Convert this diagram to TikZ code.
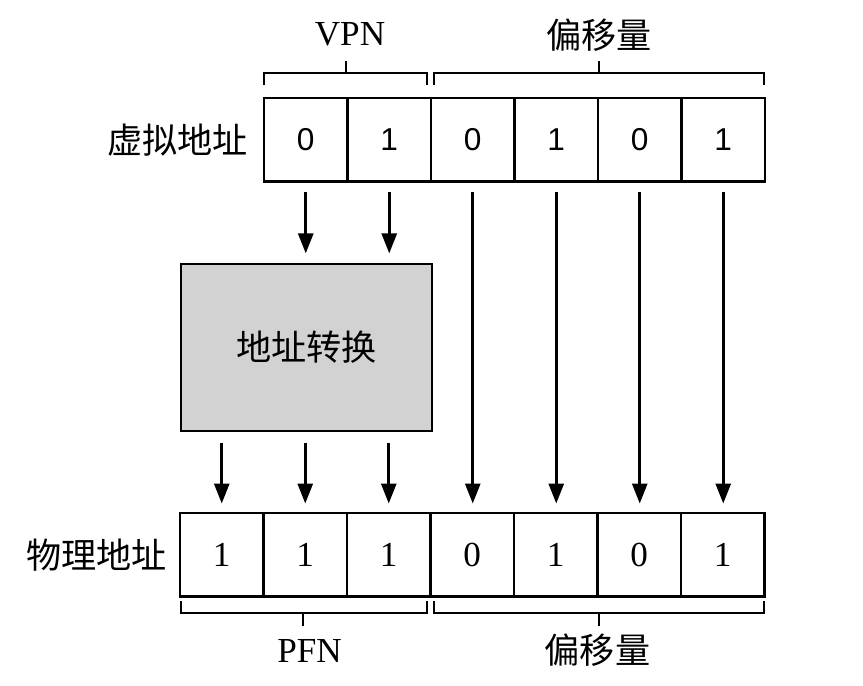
\documentclass[tikz,border=0pt]{standalone}
\usepackage{fontspec}
\setmainfont{Liberation Serif}
\newfontfamily\cjk{Noto Sans CJK SC}
\newfontfamily\arialfont{Liberation Sans}
\usetikzlibrary{positioning,arrows.meta}

\begin{document}
\begin{tikzpicture}[
  >={Triangle[length=4mm,width=3mm]},
  cell/.style={draw, line width=1.2pt, minimum width=1.67cm,
               minimum height=1.67cm, inner sep=0pt, outer sep=0pt},
  vcell/.style={cell, font=\arialfont\fontsize{18}{20}\selectfont},
  pcell/.style={cell, font=\fontsize{20}{22}\selectfont},
  xbox/.style={draw, line width=1.2pt, fill=gray!35, minimum width=5.02cm,
               minimum height=3.34cm, font=\cjk\fontsize{20}{24}\selectfont},
  lab/.style={font=\cjk\fontsize{20}{24}\selectfont, inner sep=0pt},
  tag/.style={font=\fontsize{20}{24}\selectfont, inner sep=0pt},
  brk/.style={line width=1pt},
  arr/.style={->, line width=1.6pt, shorten <=0.22cm, shorten >=0.19cm},
]
  \useasboundingbox (0,0) rectangle (17.26,-13.72);
  % virtual address
  \foreach \b [count=\i from 0] in {0,1,0,1,0,1}
    \node[vcell] (v\i) at ({6.115+1.67*\i},-2.795) {\b};
  \node[lab, left=0.32cm of v0] (vlab) {虚拟地址};
  % physical address
  \foreach \b [count=\i from 0] in {1,1,1,0,1,0,1}
    \node[pcell] (p\i) at ({4.435+1.67*\i},-11.095) {\b};
  \node[lab, left=0.26cm of p0] (plab) {物理地址};
  % translation
  \node[xbox] (xlat) at (6.13,-6.95) {地址转换};
  % field labels
  \node[tag] (vpn) at (7.0,-0.68) {VPN};
  \node[lab] (voff) at (11.98,-0.7) {偏移量};
  \node[tag] (pfn) at (6.19,-13.02) {PFN};
  \node[lab] (poff) at (11.95,-13.0) {偏移量};
  % brackets
  \draw[brk] (5.28,-1.70) |- (8.54,-1.46) -- (8.54,-1.70);
  \draw[brk] (6.92,-1.46) -- (6.92,-1.22);
  \draw[brk] (8.68,-1.70) |- (15.28,-1.46) -- (15.28,-1.70);
  \draw[brk] (11.98,-1.46) -- (11.98,-1.22);
  \draw[brk] (3.62,-12.02) |- (8.54,-12.26) -- (8.54,-12.02);
  \draw[brk] (6.06,-12.26) -- (6.06,-12.52);
  \draw[brk] (8.68,-12.02) |- (15.28,-12.26) -- (15.28,-12.02);
  \draw[brk] (11.98,-12.26) -- (11.98,-12.52);
  % arrows
  \foreach \i in {0,1} { \draw[arr] (v\i.south) -- (v\i.south |- xlat.north); }
  \foreach \i in {0,1,2} { \draw[arr] (p\i.north |- xlat.south) -- (p\i.north); }
  \foreach \i/\j in {2/3,3/4,4/5,5/6} { \draw[arr] (v\i.south) -- (v\i.south |- p\j.north); }
\end{tikzpicture}
\end{document}
